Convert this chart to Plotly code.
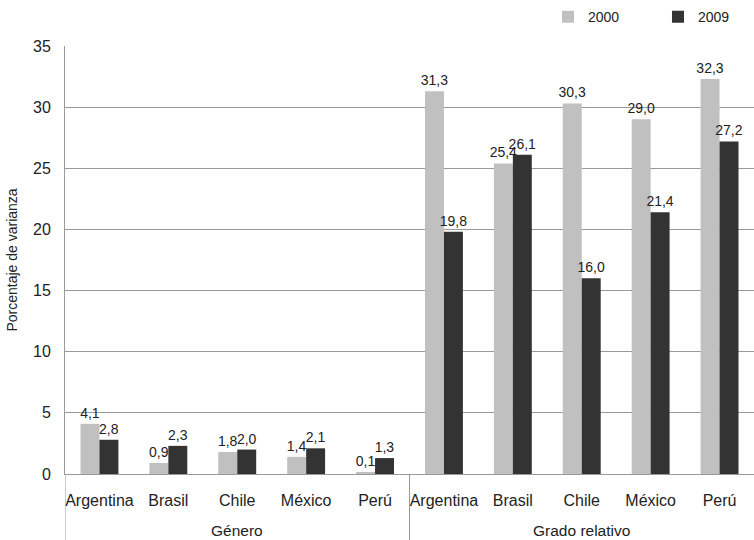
import plotly.graph_objects as go

groups = ["Género", "Grado relativo"]
countries = ["Argentina", "Brasil", "Chile", "México", "Perú"]
v2000 = [4.1, 0.9, 1.8, 1.4, 0.1, 31.3, 25.4, 30.3, 29.0, 32.3]
v2009 = [2.8, 2.3, 2.0, 2.1, 1.3, 19.8, 26.1, 16.0, 21.4, 27.2]

n_per = len(countries)
xpos = list(range(len(groups) * n_per))
ticktext = countries * len(groups)

font = dict(family="Liberation Sans, Arial, sans-serif", size=14, color="#222")

fig = go.Figure()
fig.add_trace(go.Bar(x=xpos, y=v2000, name="2000",
                     marker=dict(color="#c0c0c0", line=dict(width=0)),
                     texttemplate="%{y:.1f}", textposition="outside",
                     textfont=dict(size=14, color="#222"), cliponaxis=False))
fig.add_trace(go.Bar(x=xpos, y=v2009, name="2009",
                     marker=dict(color="#333333", line=dict(width=0)),
                     texttemplate="%{y:.1f}", textposition="outside",
                     textfont=dict(size=14, color="#222"), cliponaxis=False))

# group labels and dividers
for gi, g in enumerate(groups):
    center = gi * n_per + (n_per - 1) / 2
    fig.add_annotation(x=center, xref="x", y=0, yref="paper", yanchor="middle",
                       yshift=-56, text=g, showarrow=False, font=dict(size=15.5, color="#222"))
for gi in range(len(groups)):
    fig.add_shape(type="line", xref="x", yref="paper",
                  x0=gi * n_per - 0.5, x1=gi * n_per - 0.5, y0=0, y1=-0.16,
                  line=dict(color="#999", width=1))

fig.update_layout(
    width=754, height=540,
    separators=",.",
    barmode="group", bargap=0.45, bargroupgap=0,
    plot_bgcolor="white", paper_bgcolor="white",
    font=font,
    uniformtext=dict(minsize=14, mode="show"),
    margin=dict(l=65, r=0, t=46, b=66, autoexpand=False),
    legend=dict(orientation="h", x=0.701, xanchor="left", y=1.03, yanchor="bottom",
                font=dict(size=14), tracegroupgap=0, itemwidth=30,
                entrywidth=65, itemsizing="constant"),
    showlegend=True,
)
fig.update_yaxes(range=[0, 35], dtick=5, showgrid=True, gridcolor="#999", gridwidth=1,
                 showline=True, linecolor="#999", ticks="", tickfont=dict(size=16),
                 ticklabelstandoff=10,
                 title=dict(text="Porcentaje de varianza", font=dict(size=14), standoff=12),
                 zeroline=False, automargin=False)
fig.update_xaxes(range=[-0.5, len(xpos) - 0.5], tickmode="array", tickvals=xpos,
                 ticktext=ticktext, showline=True, linecolor="#999", showgrid=False,
                 zeroline=False, tickfont=dict(size=16), tickangle=0, ticks="",
                 ticklabelstandoff=12, automargin=False)

fig.write_html("out.html", config={"displayModeBar": False},
               post_script="document.body.style.margin='0';document.body.style.padding='0';")
